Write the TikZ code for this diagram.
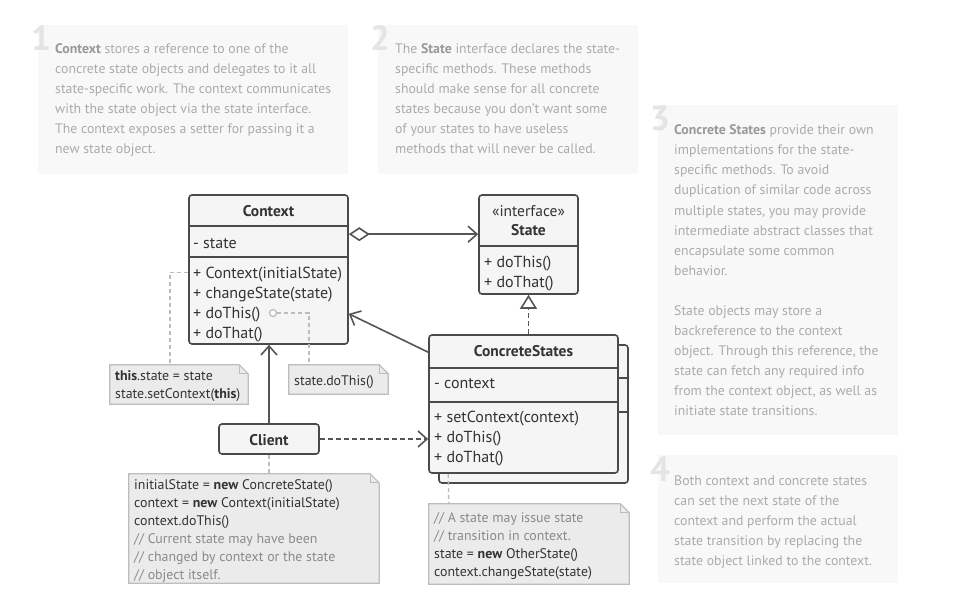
\documentclass[tikz,border=0pt]{standalone}
\usepackage{fontspec}
\setmainfont{PT Sans}
\usetikzlibrary{arrows.meta,calc}
\definecolor{desctext}{HTML}{ABABAB}
\definecolor{descbold}{HTML}{999999}
\definecolor{descbg}{HTML}{F8F8F8}
\definecolor{digit}{HTML}{E4E4E4}
\definecolor{boxline}{HTML}{4A4A4A}
\definecolor{boxfill}{HTML}{F5F5F5}
\definecolor{classtext}{HTML}{333333}
\definecolor{notefill}{HTML}{EBEBEB}
\definecolor{noteline}{HTML}{BDBDBD}
\definecolor{commenttext}{HTML}{8A8A8A}
\definecolor{linkcol}{HTML}{555555}
\definecolor{dotcol}{HTML}{BBBBBB}
\newcommand\db[1]{\textcolor{descbold}{\bfseries #1}}
\newcommand\cm[1]{\textcolor{commenttext}{#1}}
\begin{document}
\begin{tikzpicture}[x=1pt,y=-1pt,
  desc/.style={anchor=base west,inner sep=0,text=desctext,font=\fontsize{13.8}{20}\selectfont},
  digitstyle/.style={anchor=base west,inner sep=0,text=digit,font=\fontsize{35}{35}\selectfont\bfseries},
  classbox/.style={draw=boxline,fill=boxfill,line width=1.6pt,rounded corners=3pt,inner sep=0},
  divider/.style={draw=boxline,line width=1.6pt},
  ctext/.style={anchor=base west,inner sep=0,text=classtext,font=\fontsize{16}{20}\selectfont},
  ctitle/.style={anchor=base,inner sep=0,text=classtext,font=\fontsize{15.5}{20}\selectfont\bfseries},
  ntext/.style={anchor=base west,inner sep=0,text=classtext,font=\fontsize{13.9}{18}\selectfont},
  notearea/.style={inner sep=0,draw=none},
  noteshape/.style={draw=noteline,fill=notefill,line width=1.2pt},
  link/.style={draw=linkcol,line width=1.6pt},
  dotlink/.style={draw=dotcol,line width=1.4pt,dash pattern=on 4pt off 3pt},
  openhead/.tip={Straight Barb[length=9pt,width=16pt]}
]
\useasboundingbox (0,0) rectangle (970,615);
% description panels
\fill[descbg] (38,25) rectangle (348,174);
\fill[descbg] (378,25) rectangle (638,174);
\fill[descbg] (658,105) rectangle (898,435);
\fill[descbg] (658,455) rectangle (898,583);
\node[digitstyle] (dg1) at (31,51) {1};
\node[digitstyle] (dg2) at (370,51) {2};
\node[digitstyle] (dg3) at (650,131) {3};
\node[digitstyle] (dg4) at (650,481) {4};
\foreach \t [count=\i] in {{\db{Context} stores a reference to one of the},{concrete state objects and delegates to it all},{state-specific work. The context communicates},{with the state object via the state interface.},{The context exposes a setter for passing it a},{new state object.}}
  \node[desc] (da\i) at (55,{54+20*(\i-1)}) {\t};
\foreach \t [count=\i] in {{The \db{State} interface declares the state-},{specific methods. These methods},{should make sense for all concrete},{states because you don’t want some},{of your states to have useless},{methods that will never be called.}}
  \node[desc] (db\i) at (395,{54+20*(\i-1)}) {\t};
\foreach \t [count=\i] in {{\db{Concrete States} provide their own},{implementations for the state-},{specific methods. To avoid},{duplication of similar code across},{multiple states, you may provide},{intermediate abstract classes that},{encapsulate some common},{behavior.},{},{State objects may store a},{backreference to the context},{object. Through this reference, the},{state can fetch any required info},{from the context object, as well as},{initiate state transitions.}}
  \node[desc] (dc\i) at (674,{135+20*(\i-1)}) {\t};
\foreach \t [count=\i] in {{Both context and concrete states},{can set the next state of the},{context and perform the actual},{state transition by replacing the},{state object linked to the context.}}
  \node[desc] (dd\i) at (674,{485+20*(\i-1)}) {\t};

% Context class
\node[classbox,minimum width=159pt,minimum height=149pt] (ctx) at (268.5,269.5) {};
\draw[divider] (189,226) -- (348,226);
\draw[divider] (189,257) -- (348,257);
\node[ctitle] (ctxt) at (268.5,216) {Context};
\node[ctext] (ctxa) at (193,248) {- state};
\node[ctext] (ctxm1) at (193,278) {+ Context(initialState)};
\node[ctext] (ctxm2) at (193,298) {+ changeState(state)};
\node[ctext] (ctxm3) at (193,318) {+ doThis()};
\node[ctext] (ctxm4) at (193,338) {+ doThat()};

% State interface
\node[classbox,minimum width=99pt,minimum height=99pt] (st) at (528.5,244.5) {};
\draw[divider] (479,246) -- (578,246);
\node[anchor=base,inner sep=0,text=classtext,font=\fontsize{15.5}{20}\selectfont] (stst) at (528.5,216) {«interface»};
\node[ctitle] (stt) at (528.5,235) {State};
\node[ctext] (stm1) at (484,267) {+ doThis()};
\node[ctext] (stm2) at (484,287) {+ doThat()};

% ConcreteStates (stacked)
\node[classbox,minimum width=189pt,minimum height=138pt] (csb) at (533.5,414) {};
\draw[divider] (439,378) -- (627,378);
\draw[divider] (439,412) -- (627,412);
\node[classbox,minimum width=189pt,minimum height=138pt] (cs) at (523.5,404) {};
\draw[divider] (429,368) -- (618,368);
\draw[divider] (429,402) -- (618,402);
\node[ctitle] (cst) at (523.5,356) {ConcreteStates};
\node[ctext] (csa) at (434,388) {- context};
\node[ctext] (csm1) at (434,422) {+ setContext(context)};
\node[ctext] (csm2) at (434,442) {+ doThis()};
\node[ctext] (csm3) at (434,462) {+ doThat()};

% Client
\node[classbox,minimum width=100pt,minimum height=30pt] (cl) at (269,439) {};
\node[ctitle] (clt) at (269,445) {Client};

% notes
\newcommand\drawnote[5]{%
  \node[notearea,minimum width={#4-#2},minimum height={#5-#3}] (#1) at ({(#2+#4)/2},{(#3+#5)/2}) {};
  \draw[noteshape] (#1.north west) -- ($(#1.north east)+(-9,0)$) -- ($(#1.north east)+(0,9)$) -- (#1.south east) -- (#1.south west) -- cycle;
  \draw[draw=noteline,line width=1.2pt] ($(#1.north east)+(-9,0)$) -- ($(#1.north east)+(-9,9)$) -- ($(#1.north east)+(0,9)$);
}
\drawnote{n1}{110}{365}{248}{404}
\node[ntext] (n1a) at (115,380) {\textbf{this}.state = state};
\node[ntext] (n1b) at (115,398) {state.setContext(\textbf{this})};
\drawnote{n2}{289}{365}{388}{394}
\node[ntext] (n2a) at (294,385) {state.doThis()};
\drawnote{n3}{129}{474}{379}{583}
\node[ntext] (n3a) at (134,489) {initialState = \textbf{new} ConcreteState()};
\node[ntext] (n3b) at (134,507) {context = \textbf{new} Context(initialState)};
\node[ntext] (n3c) at (134,525) {context.doThis()};
\node[ntext] (n3d) at (134,543) {\cm{// Current state may have been}};
\node[ntext] (n3e) at (134,561) {\cm{// changed by context or the state}};
\node[ntext] (n3f) at (134,579) {\cm{// object itself.}};
\drawnote{n4}{429}{504}{629}{584}
\node[ntext] (n4a) at (434,522) {\cm{// A state may issue state}};
\node[ntext] (n4b) at (434,540) {\cm{// transition in context.}};
\node[ntext] (n4c) at (434,558) {state = \textbf{new} OtherState()};
\node[ntext] (n4d) at (434,576) {context.changeState(state)};

% note connectors
\draw[dotlink] ($(ctx.north west)+(0,78)$) -| ($(n1.north west)+(60,0)$);
\node[circle,draw=dotcol,fill=white,line width=1.2pt,inner sep=0,minimum size=7pt] (c2) at (273,313) {};
\draw[dotlink] (c2.east) -| ($(n2.north west)+(20,0)$);
\draw[dotlink] (cl.south) -- (cl.south |- n3.north);
\draw[dotlink] ($(cs.south west)+(20,0)$) -- ($(n4.north west)+(20,0)$);

% relations
\draw[link,{Diamond[open,length=21pt,width=14pt]}-openhead] ($(ctx.north east)+(0,40)$) -- ($(st.north west)+(0,40)$);
\draw[link,-openhead] (cl.north) -- (cl.north |- ctx.south);
\draw[link,-openhead] ($(cs.north west)+(0,18)$) -- ($(ctx.south east)+(0,-31)$);
\draw[link,dash pattern=on 5pt off 3pt,-openhead] (cl.east) -- (cs.west |- cl.east);
\draw[link,dash pattern=on 5pt off 3pt,-{Triangle[open,length=14pt,width=17pt]}] (st.south |- cs.north) -- (st.south);
\end{tikzpicture}
\end{document}
